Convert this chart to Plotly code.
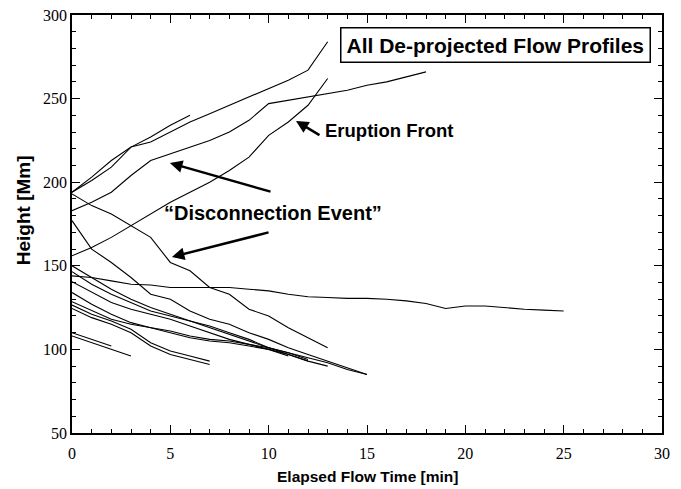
import plotly.graph_objects as go

# ---- data: elapsed time [min] -> height [Mm] for each flow profile ----
height_A = [194, 203, 213, 221, 224, 230, 236, 241, 246, 251, 256, 261, 267, 284]
height_A2 = [194, 201, 209, 221, 227, 234, 240]
height_B = [183, 188, 194, 204, 213, 217, 221, 225, 230, 237, 247, 249, 251, 253, 255, 258, 260, 263, 266]
height_C = [156, 161, 167, 174, 181, 188, 194, 200, 207, 215, 228, 236, 246, 262]
height_D = [193, 186, 181, 174, 167, 152, 147, 137, 133, 124, 120, 113, 107, 101]
height_E = [144, 143, 141, 139, 138.5, 137, 137, 137, 137, 136, 135, 133, 131.5, 131, 130.5,
            130.5, 130, 129, 127.5, 124.5, 126, 126, 125, 124, 123.5, 123]
height_F = [177, 160, 152, 143, 133, 130, 123, 118, 115, 110, 106, 101, 97, 93, 89, 85]
height_G = [150, 143, 136, 130, 125, 121, 117, 113, 109, 105, 101, 98, 95, 92, 88, 85]
height_H = [146.5, 139, 133, 128, 123, 120, 117, 114, 110, 106, 101, 97, 93]
height_I = [140.5, 134, 128, 124, 121, 118, 114, 110, 106, 103, 100, 96]
height_J = [134, 127, 121, 116, 113, 110, 107, 105, 104, 102, 100, 97, 93, 90]
height_K = [128.5, 123, 118, 115, 113, 111, 108, 106, 105, 103, 101, 98, 94]
height_L = [126.5, 121, 117, 112, 104, 99, 96, 93]
height_M = [124.5, 119, 115, 110, 102, 97, 94, 91]
height_S1 = [110, 106, 102]
height_S2 = [108, 104, 100, 96]

profiles = [height_A, height_A2, height_B, height_C, height_D, height_E, height_F, height_G,
            height_H, height_I, height_J, height_K, height_L, height_M, height_S1, height_S2]

x_ticks = [0, 5, 10, 15, 20, 25, 30]
y_ticks = [50, 100, 150, 200, 250, 300]

fig = go.Figure()
for h in profiles:
    fig.add_trace(go.Scatter(x=list(range(len(h))), y=h, mode="lines",
                             line=dict(color="black", width=1.1), showlegend=False,
                             hoverinfo="skip"))

serif = "Liberation Serif"
sans = "Liberation Sans"

axis_common = dict(showgrid=False, zeroline=False, showline=True, linecolor="black",
                   linewidth=1.5, mirror="ticks", ticks="inside", tickcolor="black",
                   tickwidth=1.2, ticklen=8, automargin=False, ticklabeloverflow="allow",
                   tickfont=dict(family=serif, size=16, color="black"))

fig.update_xaxes(range=[0, 30], tickvals=x_ticks, ticklabelstandoff=5,
                 minor=dict(dtick=1, ticks="inside", ticklen=4, tickcolor="black", tickwidth=1),
                 **axis_common)
fig.update_yaxes(range=[50, 300], tickvals=y_ticks,
                 minor=dict(dtick=10, ticks="inside", ticklen=4, tickcolor="black", tickwidth=1),
                 **axis_common)

# page body has an 8px margin; figure sized so that the plot frame lands where the reference has it
fig.update_layout(
    width=673, height=481,
    margin=dict(l=64, r=19, t=7, b=56),
    paper_bgcolor="white", plot_bgcolor="white",
    annotations=[
        dict(x=0.5, y=0, xref="paper", yref="paper", xanchor="center", yanchor="middle",
             yshift=-43, text="<b>Elapsed Flow Time [min]</b>", showarrow=False,
             font=dict(family=sans, size=15.5, color="black")),
        dict(x=0, y=0.533, xref="paper", yref="paper", xanchor="center", yanchor="middle",
             xshift=-49, textangle=-90, text="<b>Height [Mm]</b>", showarrow=False,
             font=dict(family=sans, size=19, color="black")),
        dict(x=0.982, y=0.971, xref="paper", yref="paper", xanchor="right", yanchor="top",
             text="<b>All De-projected Flow Profiles</b>", showarrow=False,
             font=dict(family=sans, size=21, color="black"),
             bordercolor="black", borderwidth=1.5, borderpad=5, bgcolor="white"),
        dict(x=11.39, y=236.6, ax=12.66, ay=227.6, axref="x", ayref="y",
             text="", showarrow=True, arrowhead=2, arrowsize=1, arrowwidth=2.5, arrowcolor="black"),
        dict(x=12.76, y=231.2, xanchor="left", yanchor="middle", text="<b>Eruption Front</b>",
             showarrow=False, font=dict(family=sans, size=18.5, color="black")),
        dict(x=4.98, y=211.5, ax=10.17, ay=194.1, axref="x", ayref="y",
             text="", showarrow=True, arrowhead=2, arrowsize=1, arrowwidth=2.5, arrowcolor="black"),
        dict(x=5.08, y=155.3, ax=10.07, ay=170.2, axref="x", ayref="y",
             text="", showarrow=True, arrowhead=2, arrowsize=1, arrowwidth=2.5, arrowcolor="black"),
        dict(x=10.22, y=181.6, xanchor="center", yanchor="middle",
             text="<b>\u201cDisconnection Event\u201d</b>",
             showarrow=False, font=dict(family=sans, size=20, color="black")),
    ],
)

fig.write_html("out.html")
